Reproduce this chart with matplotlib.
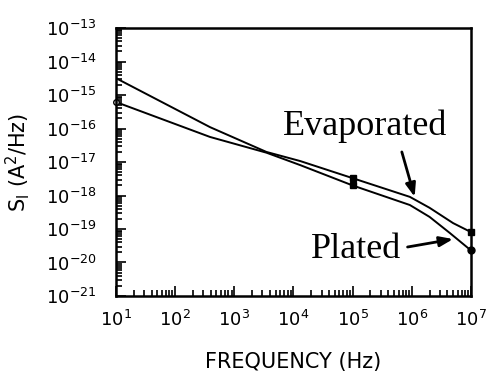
import matplotlib
matplotlib.use("Agg")
import matplotlib.pyplot as plt
from matplotlib.ticker import LogLocator, FixedLocator, NullFormatter

# Noise spectra of the two film types
evap_freq = [1e1, 3.9e2, 3.5e3, 1.3e4, 1e5, 9.3e5, 2e6, 5e6, 1e7]
evap_si   = [3.2e-15, 1.1e-16, 2.0e-17, 1.07e-17, 3.3e-18, 9.1e-19, 4.3e-19, 1.5e-19, 8.1e-20]

plat_freq = [1e1, 3.9e2, 3.5e3, 1.3e4, 1e5, 9.3e5, 2e6, 4.4e6, 1e7]
plat_si   = [6.2e-16, 5.6e-17, 1.9e-17, 8.1e-18, 2.0e-18, 5.2e-19, 2.3e-19, 7.6e-20, 2.3e-20]

x_decades = [1, 2, 3, 4, 5, 6, 7]
y_decades = [-21, -20, -19, -18, -17, -16, -15, -14, -13]

plt.rcParams.update({
    "font.family": "DejaVu Sans",
    "mathtext.fontset": "dejavusans",
})

fig = plt.figure(figsize=(4.89, 3.74), dpi=100)
ax = fig.add_axes([0.237, 0.2086, 0.726, 0.7164])

ax.plot(evap_freq, evap_si, color="black", lw=1.4)
ax.plot(plat_freq, plat_si, color="black", lw=1.4)

# end markers
ax.plot(plat_freq[0], plat_si[0], "o", mfc="white", mec="black", ms=4, clip_on=False)
ax.plot(evap_freq[4], evap_si[4], "s", color="black", ms=5, clip_on=False)
ax.plot(plat_freq[4], plat_si[4], "s", color="black", ms=5, clip_on=False)
ax.plot(evap_freq[-1], evap_si[-1], "s", color="black", ms=5, clip_on=False)
ax.plot(plat_freq[-1], plat_si[-1], "o", color="black", ms=5, clip_on=False)

ax.set_xscale("log")
ax.set_yscale("log")
ax.set_xlim(1e1, 1e7)
ax.set_ylim(1e-21, 1e-13)

ax.xaxis.set_major_locator(FixedLocator([10.0 ** d for d in x_decades]))
ax.set_xticklabels([rf"$10^{{{d}}}$" for d in x_decades])
ax.yaxis.set_major_locator(FixedLocator([10.0 ** d for d in y_decades]))
ax.set_yticklabels([rf"$10^{{{d}}}$" for d in y_decades])
ax.xaxis.set_minor_locator(LogLocator(base=10, subs=range(2, 10), numticks=20))
ax.yaxis.set_minor_locator(LogLocator(base=10, subs=range(2, 10), numticks=20))
ax.xaxis.set_minor_formatter(NullFormatter())
ax.yaxis.set_minor_formatter(NullFormatter())

ax.tick_params(which="both", direction="in", top=False, right=False, width=1.2)
ax.tick_params(which="major", length=7, labelsize=13)
ax.tick_params(which="minor", length=4)
ax.tick_params(axis="x", which="major", pad=10)
ax.tick_params(axis="y", which="major", pad=14)

for sp in ax.spines.values():
    sp.set_linewidth(1.8)

ax.set_xlabel("FREQUENCY (Hz)", fontsize=15, labelpad=16)
ax.set_ylabel(r"S$_\mathrm{I}$ (A$^2$/Hz)", fontsize=15, labelpad=10)

serif = "Liberation Serif"
arrow = dict(arrowstyle="-|>,head_length=0.8,head_width=0.3",
             color="black", lw=2, shrinkA=0, shrinkB=0)
ax.text(6.6e3, 6.5e-17, "Evaporated", fontsize=26, family=serif, va="baseline")
ax.annotate("", xy=(1.12e6, 9.1e-19), xytext=(6.8e5, 2e-17), arrowprops=arrow)
ax.text(2.0e4, 1.35e-20, "Plated", fontsize=26, family=serif, va="baseline")
ax.annotate("", xy=(5e6, 5e-20), xytext=(8.5e5, 2.9e-20), arrowprops=arrow)

fig.savefig("out.png", dpi=100, facecolor="white")
